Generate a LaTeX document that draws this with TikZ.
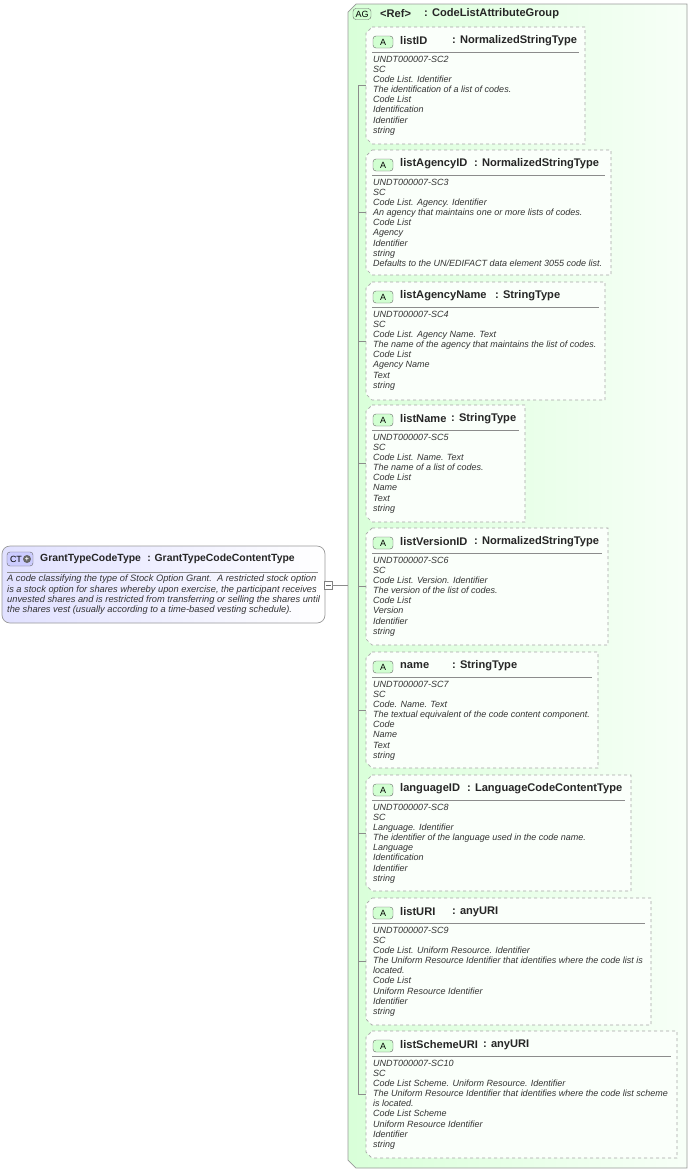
\documentclass[tikz,border=0pt]{standalone}
\usepackage{fontspec}
\setmainfont{Liberation Sans}
\tikzset{
  x=1pt,y=-1pt,
  hdr/.style={font=\fontsize{11.1}{12}\selectfont\bfseries,text=black!85,inner sep=0pt,anchor=west},
  body/.style={font=\fontsize{9}{10.1}\selectfont\itshape,text=black!80,inner sep=0pt,anchor=north west,align=left},
  abox/.style={draw=black!35,dashed,fill=green!2,line width=0.7pt},
  badge/.style={draw=black!60,fill=green!18,font=\fontsize{9}{10}\selectfont,inner sep=0pt,minimum width=20pt,minimum height=12pt,rounded corners=3pt},
  conn/.style={draw=black!45,line width=0.5pt},
}
\newcommand\attrbox[8]{%
  \pgfmathsetmacro\mid{(#2+#3)/2}
  \path[abox] (372,#2) -- (#4,#2) -- (#4,#3) -- (372,#3) -- (366,#3-6) -- (366,#2+6) -- cycle;
  \node[badge] (#1b) at (383,#2+15) {A};
  \node[hdr] (#1n) at (400,#2+14) {#5};
  \node[hdr] (#1t) at (#6,#2+14) {: #7};
  \draw[black!45] (372,#2+25) -- (#4-6,#2+25);
  \node[body] (#1d) at (373,#2+29) {#8};
  \coordinate (#1w) at (366,\mid);
  \coordinate (#1k) at (358,\mid);
  \draw[conn] (#1k) -- (#1w);
}
\begin{document}
\begin{tikzpicture}
\useasboundingbox (0,0) rectangle (691,1173);
\fill[white] (0,0) rectangle (691,1173);
% AG outer
\path[draw=black!40,left color=green!15,right color=green!3,line width=0.7pt] (356,4) -- (687,4) -- (687,1168) -- (356,1168) -- (348,1160) -- (348,12) -- cycle;
\node[badge,minimum width=18pt,minimum height=11pt] (agb) at (362,14) {AG};
\node[hdr] (agn) at (380,14) {<Ref>};
\node[hdr] (agt) at (424,14) {: CodeListAttributeGroup};
\attrbox{a1}{27}{144}{585}{listID}{452}{NormalizedStringType}{UNDT000007-SC2\\SC\\Code List. Identifier\\The identification of a list of codes.\\Code List\\Identification\\Identifier\\string}
\attrbox{a2}{150}{275}{611}{listAgencyID}{474}{NormalizedStringType}{UNDT000007-SC3\\SC\\Code List. Agency. Identifier\\An agency that maintains one or more lists of codes.\\Code List\\Agency\\Identifier\\string\\Defaults to the UN/EDIFACT data element 3055 code list.}
\attrbox{a3}{282}{400}{605}{listAgencyName}{495}{StringType}{UNDT000007-SC4\\SC\\Code List. Agency Name. Text\\The name of the agency that maintains the list of codes.\\Code List\\Agency Name\\Text\\string}
\attrbox{a4}{405}{522}{525}{listName}{451}{StringType}{UNDT000007-SC5\\SC\\Code List. Name. Text\\The name of a list of codes.\\Code List\\Name\\Text\\string}
\attrbox{a5}{528}{645}{608}{listVersionID}{474}{NormalizedStringType}{UNDT000007-SC6\\SC\\Code List. Version. Identifier\\The version of the list of codes.\\Code List\\Version\\Identifier\\string}
\attrbox{a6}{652}{768}{598}{name}{452}{StringType}{UNDT000007-SC7\\SC\\Code. Name. Text\\The textual equivalent of the code content component.\\Code\\Name\\Text\\string}
\attrbox{a7}{775}{891}{631}{languageID}{467}{LanguageCodeContentType}{UNDT000007-SC8\\SC\\Language. Identifier\\The identifier of the language used in the code name.\\Language\\Identification\\Identifier\\string}
\attrbox{a8}{898}{1025}{651}{listURI}{452}{anyURI}{UNDT000007-SC9\\SC\\Code List. Uniform Resource. Identifier\\The Uniform Resource Identifier that identifies where the code list is\\located.\\Code List\\Uniform Resource Identifier\\Identifier\\string}
\attrbox{a9}{1031}{1158}{677}{listSchemeURI}{483}{anyURI}{UNDT000007-SC10\\SC\\Code List Scheme. Uniform Resource. Identifier\\The Uniform Resource Identifier that identifies where the code list scheme\\is located.\\Code List Scheme\\Uniform Resource Identifier\\Identifier\\string}
\draw[conn] (a1k) -- (a9k);
% CT box
\path[draw=black!40,rounded corners=8pt,left color=blue!12,right color=white,line width=0.7pt] (2,546) rectangle (325,623);
\path[draw=black!60,fill=blue!20,rounded corners=3pt] (7,552) rectangle (33,566);
\node[font=\fontsize{9}{10}\selectfont,inner sep=0pt] (ctb) at (16,559) {CT};
\node[circle,fill=black!60,inner sep=0pt,minimum size=8pt,font=\fontsize{7}{7}\selectfont\bfseries,text=white] (ctp) at (27,559) {+};
\node[hdr,font=\fontsize{10.4}{12}\selectfont\bfseries] (ctn) at (40,559) {GrantTypeCodeType};
\node[hdr,font=\fontsize{10.4}{12}\selectfont\bfseries,anchor=west] (ctt) at ([xshift=6pt]ctn.east) {: GrantTypeCodeContentType};
\draw[black!45] (7,572) -- (318,572);
\node[body,font=\fontsize{9.3}{10.1}\selectfont\itshape] (ctd) at (7,575) {A code classifying the type of Stock Option Grant.\ \ A restricted stock option\\is a stock option for shares whereby upon exercise, the participant receives\\unvested shares and is restricted from transferring or selling the shares until\\the shares vest (usually according to a time-based vesting schedule).};
\node[draw=black!50,fill=white,minimum size=8pt,inner sep=0pt] (ctm) at (328,585) {};
\draw[black!60] (325.5,585) -- (330.5,585);
\coordinate (agl) at (348,585);
\draw[conn] (ctm.east) -- (agl);
\end{tikzpicture}
\end{document}
